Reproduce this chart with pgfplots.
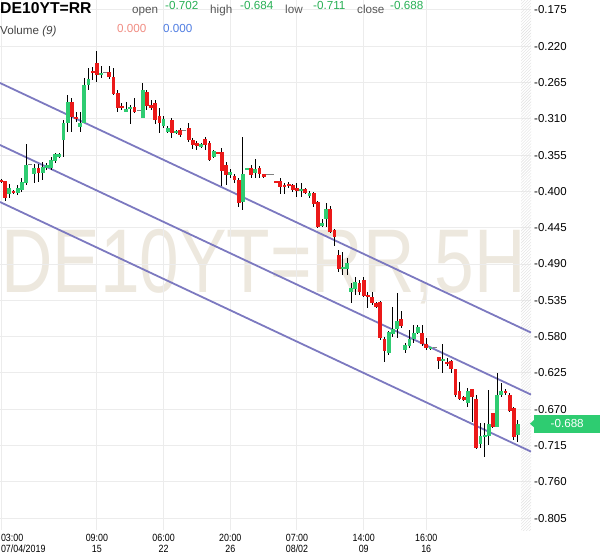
\documentclass[border=0pt]{standalone}
\usepackage{fontspec}
\setmainfont{Liberation Sans}
\usepackage{pgfplots}
\usepackage{pgfplotstable}
\pgfplotsset{compat=1.18}
\usetikzlibrary{patterns}

\definecolor{cup}{RGB}{46,204,113}
\definecolor{cdown}{RGB}{235,25,25}
\definecolor{cline}{RGB}{124,121,192}
\definecolor{cgrid}{RGB}{236,236,236}
\definecolor{cwm}{RGB}{237,232,222}
\definecolor{chead}{RGB}{85,85,85}
\definecolor{cval}{RGB}{40,175,85}
\definecolor{cvolr}{RGB}{240,140,130}
\definecolor{cvolb}{RGB}{80,125,225}
\newcommand\cx[1]{\scalebox{0.85}[1]{#1}}

% 5H candles, index i = bar number
\pgfplotstableread{
i o h l c
2 -0.4032 -0.3908 -0.4081 -0.3957
4 -0.4019 -0.3920 -0.4044 -0.3957
5 -0.3982 -0.3833 -0.4007 -0.3883
6 -0.3895 -0.3412 -0.3920 -0.3672
8 -0.3784 -0.3660 -0.3895 -0.3709
10 -0.3771 -0.3635 -0.3858 -0.3697
11 -0.3709 -0.3647 -0.3734 -0.3672
12 -0.3709 -0.3573 -0.3734 -0.3610
13 -0.3622 -0.3523 -0.3647 -0.3536
14 -0.3573 -0.3523 -0.3585 -0.3536
15 -0.3362 -0.3114 -0.3573 -0.3151
16 -0.3151 -0.2804 -0.3263 -0.2891
19 -0.3201 -0.3015 -0.3263 -0.3151
20 -0.3151 -0.2593 -0.3151 -0.2680
21 -0.2680 -0.2469 -0.2742 -0.2606
24 -0.2556 -0.2444 -0.2593 -0.2531
30 -0.3015 -0.2891 -0.3015 -0.2978
31 -0.2978 -0.2928 -0.3164 -0.2953
34 -0.3089 -0.2655 -0.3089 -0.2742
39 -0.3188 -0.3064 -0.3213 -0.3102
40 -0.3263 -0.3188 -0.3275 -0.3213
42 -0.3275 -0.3238 -0.3288 -0.3250
48 -0.3449 -0.3399 -0.3461 -0.3412
51 -0.3573 -0.3486 -0.3585 -0.3498
55 -0.3796 -0.3722 -0.3833 -0.3759
58 -0.4131 -0.3325 -0.4230 -0.3784
59 -0.3734 -0.3709 -0.3734 -0.3709
61 -0.3771 -0.3598 -0.3833 -0.3722
72 -0.3994 -0.3895 -0.4069 -0.3970
74 -0.4056 -0.3994 -0.4081 -0.4019
77 -0.4428 -0.4342 -0.4441 -0.4391
78 -0.4342 -0.4143 -0.4441 -0.4218
82 -0.4962 -0.4751 -0.5036 -0.4937
83 -0.4962 -0.4825 -0.5036 -0.4887
84 -0.5247 -0.5135 -0.5383 -0.5197
85 -0.5210 -0.5061 -0.5284 -0.5123
93 -0.6003 -0.5730 -0.6028 -0.5743
94 -0.5768 -0.5433 -0.5805 -0.5706
95 -0.5706 -0.5259 -0.5817 -0.5606
97 -0.5966 -0.5879 -0.6003 -0.5904
98 -0.5916 -0.5718 -0.5941 -0.5830
99 -0.5830 -0.5656 -0.5879 -0.5755
100 -0.5755 -0.5656 -0.5768 -0.5681
103 -0.5954 -0.5929 -0.5966 -0.5929
106 -0.6102 -0.5892 -0.6251 -0.6078
112 -0.6623 -0.6437 -0.6673 -0.6474
115 -0.7132 -0.6871 -0.7181 -0.7032
116 -0.7045 -0.6871 -0.7293 -0.7020
117 -0.7032 -0.6462 -0.7144 -0.6884
119 -0.6921 -0.6251 -0.6921 -0.6524
120 -0.6524 -0.6375 -0.6549 -0.6474
124 -0.7020 -0.6840 -0.7110 -0.6880
}\upcandles

\pgfplotstableread{
i o h l c
0 -0.3858 -0.3846 -0.3895 -0.3883
1 -0.3870 -0.3870 -0.4118 -0.4081
3 -0.3994 -0.3982 -0.4032 -0.4019
9 -0.3709 -0.3660 -0.3883 -0.3771
17 -0.2891 -0.2841 -0.3263 -0.3077
18 -0.3077 -0.3015 -0.3139 -0.3102
22 -0.2506 -0.2457 -0.2618 -0.2531
23 -0.2407 -0.2258 -0.2643 -0.2556
26 -0.2519 -0.2444 -0.2606 -0.2581
27 -0.2581 -0.2469 -0.2804 -0.2792
28 -0.2779 -0.2742 -0.3015 -0.2965
29 -0.2940 -0.2903 -0.2990 -0.2965
32 -0.2953 -0.2841 -0.3027 -0.3015
35 -0.2767 -0.2742 -0.2990 -0.2940
36 -0.2928 -0.2866 -0.2990 -0.2965
37 -0.2903 -0.2866 -0.3164 -0.3114
38 -0.3064 -0.2965 -0.3275 -0.3151
41 -0.3114 -0.3089 -0.3337 -0.3275
43 -0.3238 -0.3213 -0.3325 -0.3300
45 -0.3213 -0.3151 -0.3387 -0.3362
46 -0.3362 -0.3337 -0.3474 -0.3424
47 -0.3399 -0.3374 -0.3486 -0.3436
49 -0.3350 -0.3325 -0.3486 -0.3424
50 -0.3399 -0.3374 -0.3622 -0.3610
52 -0.3511 -0.3511 -0.3536 -0.3536
53 -0.3511 -0.3461 -0.3932 -0.3746
54 -0.3672 -0.3635 -0.3920 -0.3796
56 -0.3808 -0.3784 -0.3895 -0.3858
57 -0.3858 -0.3833 -0.4193 -0.4143
60 -0.3709 -0.3672 -0.3833 -0.3796
62 -0.3709 -0.3684 -0.3833 -0.3784
63 -0.3784 -0.3784 -0.3833 -0.3821
66 -0.3870 -0.3870 -0.3895 -0.3895
67 -0.3870 -0.3833 -0.4032 -0.3945
68 -0.3920 -0.3895 -0.4032 -0.3945
69 -0.3908 -0.3883 -0.3957 -0.3932
70 -0.3920 -0.3908 -0.4007 -0.3982
71 -0.3957 -0.3895 -0.4069 -0.3994
73 -0.3970 -0.3957 -0.4032 -0.4019
75 -0.4019 -0.4007 -0.4193 -0.4156
76 -0.4131 -0.4118 -0.4453 -0.4441
79 -0.4218 -0.4180 -0.4515 -0.4503
80 -0.4478 -0.4466 -0.4676 -0.4565
81 -0.4788 -0.4726 -0.4999 -0.4962
86 -0.5135 -0.5098 -0.5284 -0.5247
87 -0.5098 -0.5061 -0.5309 -0.5296
88 -0.5284 -0.5247 -0.5445 -0.5309
89 -0.5309 -0.5247 -0.5408 -0.5383
90 -0.5383 -0.5371 -0.5445 -0.5433
91 -0.5371 -0.5358 -0.5842 -0.5817
92 -0.5830 -0.5805 -0.6115 -0.5978
96 -0.5582 -0.5482 -0.5693 -0.5668
101 -0.5755 -0.5656 -0.5916 -0.5892
102 -0.5892 -0.5817 -0.5966 -0.5941
105 -0.6053 -0.6053 -0.6202 -0.6102
107 -0.6115 -0.6065 -0.6164 -0.6140
108 -0.6102 -0.6090 -0.6251 -0.6202
109 -0.6202 -0.6202 -0.6549 -0.6524
110 -0.6474 -0.6363 -0.6586 -0.6574
111 -0.6549 -0.6536 -0.6598 -0.6586
113 -0.6450 -0.6450 -0.6859 -0.6549
114 -0.6574 -0.6524 -0.7194 -0.7181
118 -0.6747 -0.6747 -0.6933 -0.6921
121 -0.6474 -0.6450 -0.6524 -0.6499
122 -0.6524 -0.6499 -0.6735 -0.6722
123 -0.6685 -0.6673 -0.7082 -0.7045
}\downcandles

\pgfplotstableread{
i c
7 -0.3672
25 -0.2531
33 -0.3002
44 -0.3250
64 -0.3784
65 -0.3784
104 -0.5929
}\dojis

\pgfplotsset{
  candle/.style={draw=none, mark=none, forget plot,
    error bars/y dir=both, error bars/y explicit, error bars/error mark=none,
    error bars/error bar style={draw=#1, line width=3.8bp}},
  wick/.style={candle=black, error bars/error bar style={line width=1bp}},
}

\begin{document}
\begin{tikzpicture}
% watermark
\node[anchor=base west, inner sep=0pt, text=cwm] at (1bp,237bp)
  {\scalebox{1}[1.27]{\fontsize{71.5}{72}\selectfont DE10YT=RR,5H}};

\begin{axis}[
  at={(0,0)}, anchor=south west,
  scale only axis, width=531bp, height=530bp,
  xmin=-0.24, xmax=127.13,
  ymin=-0.8198, ymax=-0.1626,
  axis line style={draw=none},
  major tick length=0pt,
  xmajorgrids, ymajorgrids,
  grid style={cgrid, line width=1bp},
  xtick={0,23,39,55,71,87,102},
  xticklabels={
    {\rlap{\cx{03:00}}\\\rlap{\cx{07/04/2019}}},
    {\cx{09:00}\\\cx{15}},
    {\cx{06:00}\\\cx{22}},
    {\cx{20:00}\\\cx{26}},
    {\cx{07:00}\\\cx{08/02}},
    {\cx{14:00}\\\cx{09}},
    {\cx{16:00}\\\cx{16}}},
  xticklabel style={font=\fontsize{10.5}{11}\selectfont, align=center,
    anchor=north, inner sep=0pt, yshift=-4bp},
  ytick={-0.805,-0.760,-0.715,-0.670,-0.625,-0.580,-0.535,-0.490,-0.445,-0.400,-0.355,-0.310,-0.265,-0.220,-0.175},
  yticklabels={-0.805,-0.760,-0.715,-0.670,-0.625,-0.580,-0.535,-0.490,-0.445,-0.400,-0.355,-0.310,-0.265,-0.220,-0.175},
  yticklabel pos=right,
  yticklabel style={font=\fontsize{11.5}{12}\selectfont, anchor=west, inner sep=0pt, xshift=3bp},
]
% hatched strip right of the last bar
\fill[pattern=north east lines, pattern color=gray!25]
  (axis cs:124.75,-0.8198) rectangle (axis cs:127.13,-0.1626);

% channel lines
\addplot[cline, line width=1.8bp, forget plot] coordinates {(-0.24,-0.2655) (127.13,-0.5750)};
\addplot[cline, line width=1.8bp, forget plot] coordinates {(-0.24,-0.3424) (127.13,-0.6519)};
\addplot[cline, line width=1.8bp, forget plot] coordinates {(-0.24,-0.4131) (127.13,-0.7226)};

% wicks
\addplot[wick] table[x=i, y expr={(\thisrow{h}+\thisrow{l})/2}, y error expr={(\thisrow{h}-\thisrow{l})/2}] {\upcandles};
\addplot[wick] table[x=i, y expr={(\thisrow{h}+\thisrow{l})/2}, y error expr={(\thisrow{h}-\thisrow{l})/2}] {\downcandles};
% bodies
\addplot[candle=cup] table[x=i, y expr={(\thisrow{o}+\thisrow{c})/2}, y error expr={abs(\thisrow{o}-\thisrow{c})/2}] {\upcandles};
\addplot[candle=cdown] table[x=i, y expr={(\thisrow{o}+\thisrow{c})/2}, y error expr={abs(\thisrow{o}-\thisrow{c})/2}] {\downcandles};
% flat bars
\addplot[only marks, mark=-, mark size=2bp, mark options={draw=gray, line width=1bp}] table[x=i, y=c] {\dojis};
\end{axis}

% header
\node[anchor=base west, inner sep=0pt] at (0bp,516bp) {\fontsize{15.8}{16}\selectfont\bfseries DE10YT=RR};
\begin{scope}[every node/.style={anchor=base west, inner sep=0pt, font=\fontsize{11.7}{12}\selectfont}]
\node[text=chead] at (132bp,516.7bp) {open};
\node[text=cval] at (165bp,520.7bp) {-0.702};
\node[text=chead] at (210bp,516.7bp) {high};
\node[text=cval] at (240bp,520.7bp) {-0.684};
\node[text=chead] at (285bp,516.7bp) {low};
\node[text=cval] at (313bp,520.7bp) {-0.711};
\node[text=chead] at (357bp,516.7bp) {close};
\node[text=cval] at (390bp,520.7bp) {-0.688};
\node[text=chead!80!black] at (0bp,495.5bp) {Volume \textit{(9)}};
\node[text=cvolr] at (117bp,497bp) {0.000};
\node[text=cvolb] at (163bp,497bp) {0.000};
\end{scope}

% last price tag
\fill[cup] (530bp,106.3bp) -- (534bp,110bp) -- (534bp,102.6bp) -- cycle;
\node[fill=cup, text=white, anchor=west, minimum width=66bp, minimum height=18bp, inner sep=0pt,
  font=\fontsize{11.7}{12}\selectfont] at (534bp,106.3bp) {-0.688};

\pgfresetboundingbox
\path (0bp,-28bp) rectangle (600bp,530bp);
\end{tikzpicture}
\end{document}
